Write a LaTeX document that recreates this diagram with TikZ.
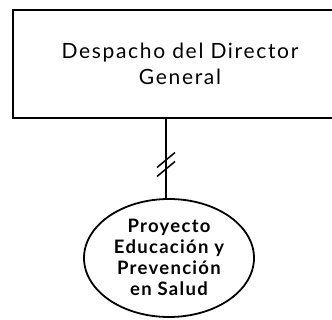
\documentclass[tikz,border=0pt]{standalone}
\usepackage{fontspec}
\setmainfont{Lato}
\newfontfamily\toplabel[LetterSpace=8]{Lato}
\newfontfamily\elllabel[LetterSpace=7]{Lato Bold}
\usetikzlibrary{shapes.geometric,calc}
\tikzset{
  unitbox/.style={draw, line width=1.8pt, minimum width=334pt, minimum height=108pt, inner sep=0pt, align=center, font=\toplabel\fontsize{21}{26}\selectfont},
  projell/.style={draw, ellipse, line width=1.8pt, minimum width=170pt, minimum height=118pt, inner sep=0pt, align=center, font=\elllabel\fontsize{18.5}{21}\selectfont},
  link/.style={line width=1.8pt},
  slash/.style={line width=1.5pt}
}
\begin{document}
\begin{tikzpicture}[x=1pt,y=1pt]
\useasboundingbox (0,0) rectangle (332,320);
\node[unitbox] (dir) at (180,256) {Despacho del Director\\General};
\node[projell] (proj) at (169,62) {};
\node[projell, draw=none] (projtxt) at ([yshift=1pt]proj.center) {Proyecto\\Educación y\\Prevención\\en Salud};
\coordinate (top) at ([xshift=-3pt]proj.north |- dir.south);
\coordinate (bot) at ([xshift=-3pt]proj.north);
\draw[link] (top) -- (bot);
\coordinate (mid) at ($(top)!0.5!(bot)$);
\draw[slash] ($(mid)+(-9,-9)$) -- ($(mid)+(9,6)$);
\draw[slash] ($(mid)+(-9,-18)$) -- ($(mid)+(9,-3)$);
\end{tikzpicture}
\end{document}
